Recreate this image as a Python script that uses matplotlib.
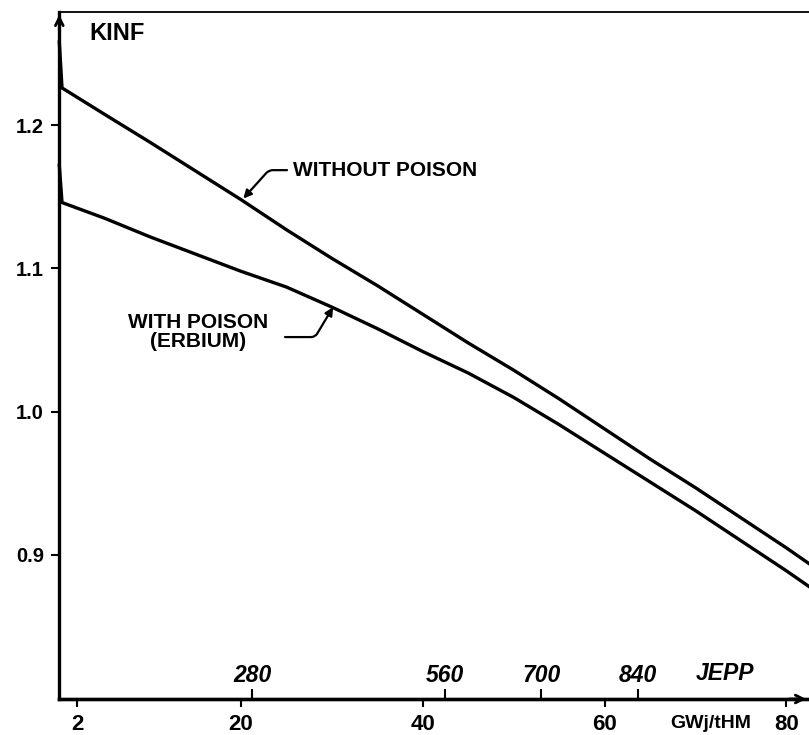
import numpy as np
import matplotlib.pyplot as plt

plt.rcParams['font.family'] = ['Liberation Sans', 'DejaVu Sans']

# burnup (GWj/tHM) and kinf
burnup = [0, 0.3, 5, 10, 15, 20, 25, 30, 35, 40, 45, 50, 55, 60, 65, 70, 75, 80, 82.5]
kinf_no_poison = [1.258, 1.226, 1.2075, 1.188, 1.168, 1.148, 1.127, 1.107, 1.088, 1.068,
                  1.048, 1.029, 1.009, 0.988, 0.967, 0.947, 0.926, 0.905, 0.894]
kinf_erbium = [1.172, 1.146, 1.135, 1.122, 1.110, 1.098, 1.087, 1.073, 1.058, 1.042,
               1.027, 1.010, 0.991, 0.971, 0.951, 0.931, 0.910, 0.889, 0.878]

x_ticks = [2, 20, 40, 60, 80]
y_ticks = [0.9, 1.0, 1.1, 1.2]
jepp_ticks = [280, 560, 700, 840]
jepp_per_gwd = 13.2

fig = plt.figure(figsize=(8.09, 7.35), dpi=100)
ax = fig.add_axes([0.0733, 0.0490, 0.9267, 0.9347])

ax.plot(burnup, kinf_no_poison, color='black', lw=2.4, clip_on=False)
ax.plot(burnup, kinf_erbium, color='black', lw=2.4, clip_on=False)

ax.set_xlim(0, 82.5)
ax.set_ylim(0.7995, 1.279)
ax.set_xticks(x_ticks)
ax.set_yticks(y_ticks)
ax.set_yticklabels([f'{v:.1f}' for v in y_ticks])
ax.tick_params(axis='both', width=1.5, length=6, color='black')
ax.tick_params(axis='y', pad=5, labelsize=14.5)
ax.tick_params(axis='x', pad=5, labelsize=16)
for lab in ax.get_xticklabels() + ax.get_yticklabels():
    lab.set_fontweight('bold')

ax.spines['right'].set_visible(False)
ax.spines['left'].set_linewidth(2.4)
ax.spines['bottom'].set_linewidth(2.4)
ax.spines['top'].set_linewidth(1.3)

# axis arrows
ax.annotate('', xy=(0, 1.0), xytext=(0, 0.97), xycoords='axes fraction',
            arrowprops=dict(arrowstyle='->', lw=2, color='black', mutation_scale=14))
ax.annotate('', xy=(1.0, 0), xytext=(0.97, 0), xycoords='axes fraction',
            arrowprops=dict(arrowstyle='->', lw=2, color='black', mutation_scale=14))

# JEPP scale drawn on the bottom axis, labels inside
sec = ax.secondary_xaxis('bottom', functions=(lambda x: x * jepp_per_gwd,
                                              lambda j: j / jepp_per_gwd))
sec.set_xticks(jepp_ticks)
sec.tick_params(direction='in', length=7, width=1.5, labelsize=16.5, pad=-25)
sec.spines['bottom'].set_linewidth(2.4)
for lab in sec.get_xticklabels():
    lab.set_fontstyle('italic')
    lab.set_fontweight('bold')

ax.annotate('JEPP', xy=(73.3, 0), xycoords=('data', 'axes fraction'),
            xytext=(0, 18.7), textcoords='offset points', ha='center', va='center',
            fontsize=16.5, fontstyle='italic', fontweight='bold')
ax.annotate('GWj/tHM', xy=(71.7, 0), xycoords=('data', 'axes fraction'),
            xytext=(0, -17.3), textcoords='offset points', ha='center', va='center',
            fontsize=14, fontweight='bold')

ax.text(3.3, 1.264, 'KINF', fontsize=17, fontweight='bold', ha='left', va='center')

# curve labels
ax.text(25.7, 1.1686, 'WITHOUT POISON', fontsize=15, fontweight='bold',
        ha='left', va='center')
ax.annotate('', xy=(20.25, 1.1488), xytext=(25.06, 1.1686),
            arrowprops=dict(arrowstyle='-|>', lw=1.6, color='black', mutation_scale=12,
                            shrinkA=0, shrinkB=0,
                            connectionstyle='angle,angleA=0,angleB=48,rad=4'))

ax.text(15.3, 1.0556, 'WITH POISON\n(ERBIUM)', fontsize=15, fontweight='bold',
        ha='center', va='center', linespacing=1.05)
ax.annotate('', xy=(30.13, 1.073), xytext=(24.84, 1.0521),
            arrowprops=dict(arrowstyle='-|>', lw=1.6, color='black', mutation_scale=12,
                            shrinkA=0, shrinkB=0,
                            connectionstyle='angle,angleA=0,angleB=59,rad=4'))

fig.savefig('out.png', dpi=100)
